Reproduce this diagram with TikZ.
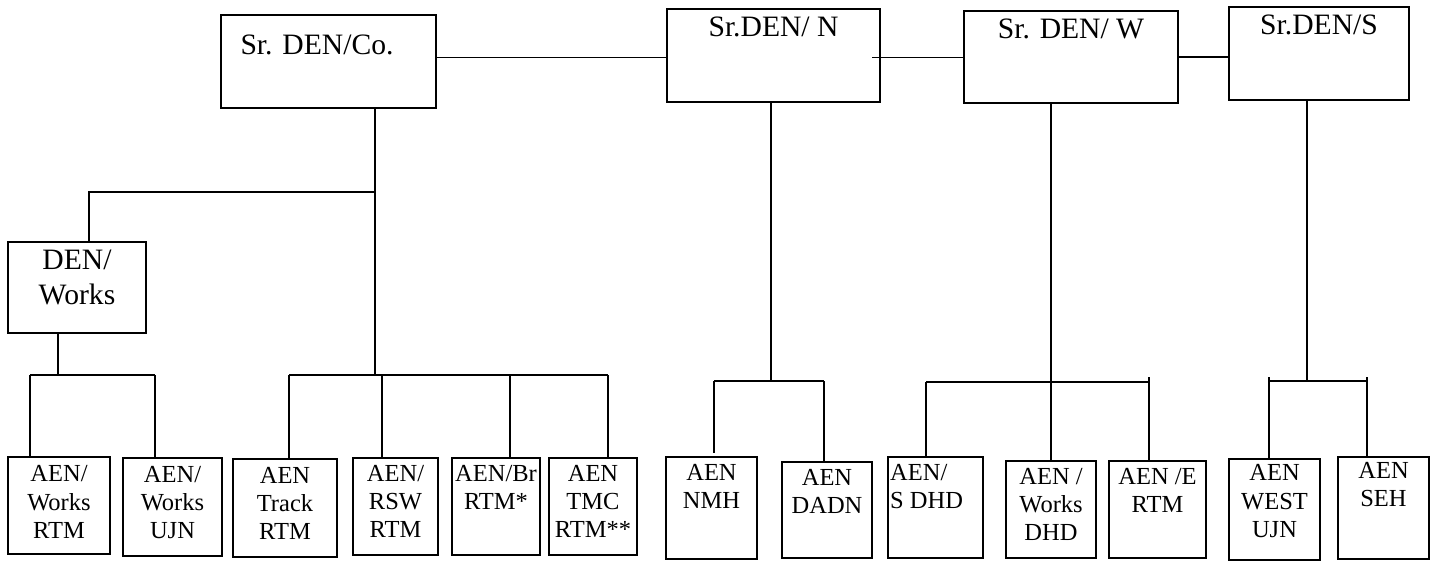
\documentclass[tikz,border=0pt]{standalone}
\usepackage{fontspec}
\setmainfont{Liberation Serif}

\tikzset{
  post/.style={draw, line width=2pt, anchor=north west, inner sep=0pt, outer sep=0pt},
  head/.style={anchor=north, align=center, inner sep=0pt, yshift=-8pt, font=\fontsize{29.6}{35}\selectfont},
  staff/.style={anchor=north, align=center, inner sep=0pt, yshift=-7pt, font=\fontsize{24.5}{28.3}\selectfont},
  wire/.style={line width=1.6pt},
}

\begin{document}
\begin{tikzpicture}[x=1pt, y=-1pt]
\useasboundingbox (0,0) rectangle (1434,561);

% senior DEN boxes
\node[post, minimum width=215, minimum height=93, label={[head, xshift=-11.5pt, yshift=-11.4pt]north:{Sr. DEN/Co.}}] (co) at (221,15) {};
\node[post, minimum width=213, minimum height=93, label={[head, yshift=0.6pt]north:{Sr.DEN/ N}}] (n) at (667,9) {};
\node[post, minimum width=214, minimum height=92, label={[head]north:{Sr. DEN/ W}}] (w) at (964,11) {};
\node[post, minimum width=180, minimum height=93, label={[head]north:{Sr.DEN/S}}] (s) at (1229,7) {};
\node[post, minimum width=138, minimum height=91, label={[head]north:{DEN/\\Works}}] (dw) at (8,242) {};

% AEN boxes
\node[post, minimum width=102, minimum height=97, label={[staff, yshift=-1.5pt]north:{AEN/\\Works\\RTM}}] (wr) at (8,457) {};
\node[post, minimum width=99, minimum height=98, label={[staff, yshift=-1pt]north:{AEN/\\Works\\UJN}}] (wu) at (123,458) {};
\node[post, minimum width=104, minimum height=98, label={[staff, yshift=-1pt]north:{AEN\\Track\\RTM}}] (tr) at (233,459) {};
\node[post, minimum width=85, minimum height=97, label={[staff]north:{AEN/\\RSW\\RTM}}] (rsw) at (353,458) {};
\node[post, minimum width=88, minimum height=97, label={[staff]north:{AEN/Br\\RTM*}}] (br) at (452,458) {};
\node[post, minimum width=88, minimum height=97, label={[staff]north:{AEN\\TMC\\RTM**}}] (tmc) at (549,458) {};
\node[post, minimum width=91, minimum height=102, label={[staff]north:{AEN\\NMH}}] (nmh) at (666,457) {};
\node[post, minimum width=90, minimum height=96, label={[staff]north:{AEN\\DADN}}] (dadn) at (782,462) {};
\node[post, minimum width=95, minimum height=101, label={[staff, anchor=north west, align=left, xshift=2pt]north west:{AEN/\\S DHD}}] (sdhd) at (888,457) {};
\node[post, minimum width=90, minimum height=97, label={[staff]north:{AEN /\\Works\\DHD}}] (wdhd) at (1006,461) {};
\node[post, minimum width=97, minimum height=97, label={[staff]north:{AEN /E\\RTM}}] (e) at (1109,461) {};
\node[post, minimum width=91, minimum height=101, label={[staff, yshift=1.5pt]north:{AEN\\WEST\\UJN}}] (west) at (1229,459) {};
\node[post, minimum width=91, minimum height=102, label={[staff, yshift=2pt]north:{AEN\\SEH}}] (seh) at (1338,457) {};

% links between the senior DENs
\draw[wire] ([yshift=4pt]co.east) -- ([yshift=4pt]co.east -| n.west);
\draw[wire] ([xshift=-8pt, yshift=-2pt]n.east) -- ([yshift=-2pt]n.east -| w.west);
\draw[wire] (w.east) -- (w.east -| s.west);

% Sr. DEN/Co. branch
\coordinate (coS) at (375,375);
\coordinate (coJ) at (375,192);
\coordinate (dwT) at (89,192);
\draw[wire] (coS |- co.south) -- (coS);
\draw[wire] (coJ) -- (dwT) -- (dwT |- dw.north);
\draw[wire] (289,375) -- (608,375);
\foreach \b/\x in {tr/289, rsw/382, br/510, tmc/608}
  \draw[wire] (\x,375) -- (\x,375 |- \b.north);

% DEN/Works branch
\coordinate (dwS) at (58,375);
\draw[wire] (dwS |- dw.south) -- (dwS);
\draw[wire] (30,375) -- (155,375);
\foreach \b/\x in {wr/30, wu/155}
  \draw[wire] (\x,375) -- (\x,375 |- \b.north);

% Sr.DEN/ N branch
\coordinate (nS) at (771,381);
\draw[wire] (nS |- n.south) -- (nS);
\draw[wire] (714,381) -- (824,381);
\draw[wire, shorten >=4pt] (714,381) -- (714,381 |- nmh.north);
\draw[wire] (824,381) -- (824,381 |- dadn.north);

% Sr. DEN/ W branch
\coordinate (wS) at (1051,382);
\draw[wire] (wS |- w.south) -- (wS |- wdhd.north);
\draw[wire] (926,382) -- (1149,382);
\draw[wire] (926,382) -- (926,382 |- sdhd.north);
\draw[wire] (1149,377) -- (1149,377 |- e.north);

% Sr.DEN/S branch
\coordinate (sS) at (1307,381);
\draw[wire] (sS |- s.south) -- (sS);
\draw[wire] (1269,381) -- (1367,381);
\foreach \b/\x in {west/1269, seh/1367}
  \draw[wire] (\x,377) -- (\x,377 |- \b.north);

\end{tikzpicture}
\end{document}
